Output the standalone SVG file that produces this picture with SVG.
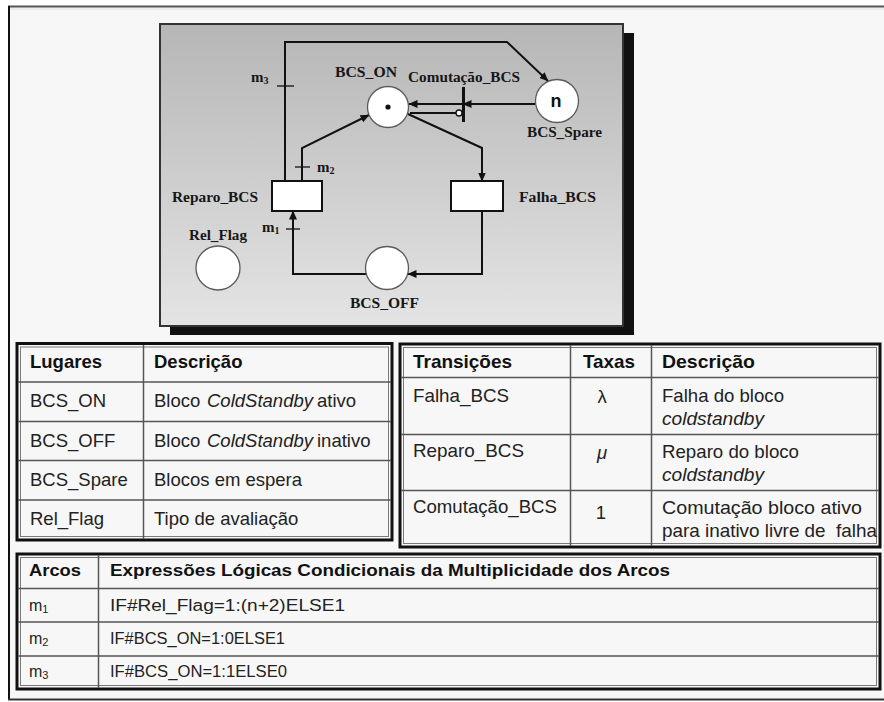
<svg xmlns="http://www.w3.org/2000/svg" width="884" height="702" viewBox="0 0 884 702">
  <defs>
    <linearGradient id="panelFill" x1="0" y1="0" x2="0" y2="1">
      <stop offset="0" stop-color="#b6b6b6"/>
      <stop offset="1" stop-color="#e4e4e4"/>
    </linearGradient>
    <marker id="arrow" markerUnits="userSpaceOnUse" markerWidth="9" markerHeight="8" refX="8.5" refY="4" orient="auto">
      <path d="M0,0 L9,4 L0,8 z" fill="#111"/>
    </marker>
    <style>
      .net { font-family: "Liberation Serif", "Times New Roman", serif; font-weight: bold; font-size: 15px; fill: #161616; }
      .sub { font-size: 10px; }
      .place { fill: #ffffff; stroke: #5a5a5a; stroke-width: 1.3; }
      .trans { fill: #ffffff; stroke: #111; stroke-width: 2; }
      .arc { fill: none; stroke: #111; stroke-width: 2; }
      .tick { stroke: #111; stroke-width: 1.3; }
      .cell { font-family: "Liberation Sans", Arial, sans-serif; font-size: 18.5px; fill: #222; }
      .hdr { font-weight: bold; fill: #111; }
      .it { font-style: italic; }
      .small { font-size: 16px; }
      .tbl { fill: #f7f7f7; stroke: #111; stroke-width: 3; }
      .tblin { fill: none; stroke: #7a7a7a; stroke-width: 1; }
      .grid { stroke: #555; stroke-width: 1.5; }
    </style>
  </defs>

  <!-- page background and frame -->
  <rect x="0" y="0" width="884" height="702" fill="#ffffff"/>
  <rect x="9" y="7" width="880" height="692" fill="#f7f7f7"/>
  <line x1="8" y1="6.5" x2="884" y2="6.5" stroke="#555" stroke-width="2"/>
  <line x1="9" y1="9" x2="884" y2="9" stroke="#e2e2e2" stroke-width="1"/>
  <line x1="9" y1="6" x2="9" y2="700" stroke="#111" stroke-width="2"/>
  <line x1="8" y1="699.5" x2="884" y2="699.5" stroke="#333" stroke-width="2"/>

  <!-- Petri net panel -->
  <g id="panel">
    <rect x="170" y="33" width="464" height="302" fill="#111"/>
    <rect x="160" y="24" width="463" height="302" fill="url(#panelFill)" stroke="#333" stroke-width="2"/>
  </g>

  <!-- arcs -->
  <g id="connectors">
    <path class="arc" d="M285 181 V42 H507 L548 81" marker-end="url(#arrow)"/>
    <path class="arc" d="M302 181 V148 L369 115" marker-end="url(#arrow)"/>
    <path class="arc" d="M408 114 L482 148 V181" marker-end="url(#arrow)"/>
    <path class="arc" d="M482 211 V274 H408" marker-end="url(#arrow)"/>
    <path class="arc" d="M366 274 H293 V211" marker-end="url(#arrow)"/>
    <path class="arc" d="M535 104 H463" marker-end="url(#arrow)"/>
    <path class="arc" d="M462 104 H409" marker-end="url(#arrow)"/>
    <path class="arc" d="M410 113 H456"/>
    <circle cx="459" cy="113" r="3" fill="#fff" stroke="#111" stroke-width="1.3"/>
    <!-- multiplicity ticks -->
    <line class="tick" x1="277" y1="86" x2="294" y2="86"/>
    <line class="tick" x1="295" y1="167" x2="310" y2="167"/>
    <line class="tick" x1="286" y1="229" x2="300" y2="229"/>
  </g>

  <!-- places -->
  <g id="BCS_ON">
    <circle class="place" cx="388" cy="107" r="20.5"/>
    <circle cx="388" cy="107" r="2.6" fill="#111"/>
    <text class="net" x="335" y="77" textLength="62" lengthAdjust="spacingAndGlyphs">BCS_ON</text>
  </g>
  <g id="BCS_Spare">
    <circle class="place" cx="557" cy="101" r="21.5"/>
    <text x="556" y="107" text-anchor="middle" font-family="Liberation Sans, Arial, sans-serif" font-size="18" font-weight="bold" fill="#111">n</text>
    <text class="net" x="527" y="137" textLength="75" lengthAdjust="spacingAndGlyphs">BCS_Spare</text>
  </g>
  <g id="BCS_OFF">
    <circle class="place" cx="387" cy="268" r="21.5"/>
    <text class="net" x="350" y="308" textLength="69" lengthAdjust="spacingAndGlyphs">BCS_OFF</text>
  </g>
  <g id="Rel_Flag">
    <circle class="place" cx="218" cy="268" r="22"/>
    <text class="net" x="189" y="240" textLength="58" lengthAdjust="spacingAndGlyphs">Rel_Flag</text>
  </g>

  <!-- transitions -->
  <g id="Reparo_BCS">
    <rect class="trans" x="272" y="181" width="50" height="30"/>
    <text class="net" x="172" y="202" textLength="86" lengthAdjust="spacingAndGlyphs">Reparo_BCS</text>
  </g>
  <g id="Falha_BCS">
    <rect class="trans" x="451" y="181" width="52" height="30"/>
    <text class="net" x="519" y="202" textLength="77" lengthAdjust="spacingAndGlyphs">Falha_BCS</text>
  </g>
  <g id="Comutacao_BCS">
    <rect x="462" y="87" width="3" height="35" fill="#111"/>
    <text class="net" x="408" y="82" textLength="112" lengthAdjust="spacingAndGlyphs">Comutação_BCS</text>
  </g>

  <!-- arc multiplicity labels -->
  <g id="labels">
    <text class="net" x="251" y="82">m<tspan class="sub" dy="2">3</tspan></text>
    <text class="net" x="317" y="172">m<tspan class="sub" dy="2">2</tspan></text>
    <text class="net" x="262" y="232">m<tspan class="sub" dy="2">1</tspan></text>
  </g>

  <!-- table: places -->
  <g id="tabela_lugares">
    <rect class="tbl" x="17" y="343.5" width="375" height="196.5"/>
    <rect class="tblin" x="20.5" y="347" width="368" height="189.5"/>
    <line class="grid" x1="18" y1="382" x2="391" y2="382"/>
    <line class="grid" x1="18" y1="421.5" x2="391" y2="421.5"/>
    <line class="grid" x1="18" y1="460.5" x2="391" y2="460.5"/>
    <line class="grid" x1="18" y1="500" x2="391" y2="500"/>
    <line class="grid" x1="143.5" y1="345" x2="143.5" y2="539"/>
    <text class="cell hdr" x="30" y="368">Lugares</text>
    <text class="cell hdr" x="154" y="368">Descrição</text>
    <text class="cell" x="30" y="407">BCS_ON</text>
    <text class="cell" x="30" y="447">BCS_OFF</text>
    <text class="cell" x="30" y="486">BCS_Spare</text>
    <text class="cell" x="30" y="525">Rel_Flag</text>
    <text class="cell" x="154" y="407">Bloco</text>
    <text class="cell it" x="207" y="407" textLength="106" lengthAdjust="spacingAndGlyphs">ColdStandby</text>
    <text class="cell" x="317" y="407">ativo</text>
    <text class="cell" x="154" y="447">Bloco</text>
    <text class="cell it" x="207" y="447" textLength="106" lengthAdjust="spacingAndGlyphs">ColdStandby</text>
    <text class="cell" x="317" y="447">inativo</text>
    <text class="cell" x="154" y="486">Blocos em espera</text>
    <text class="cell" x="154" y="525">Tipo de avaliação</text>
  </g>

  <!-- table: transitions -->
  <g id="tabela_transicoes">
    <rect class="tbl" x="400" y="344" width="480" height="203"/>
    <rect class="tblin" x="403.5" y="347.5" width="473" height="196"/>
    <line class="grid" x1="401" y1="377.5" x2="879" y2="377.5"/>
    <line class="grid" x1="401" y1="434.5" x2="879" y2="434.5"/>
    <line class="grid" x1="401" y1="490.5" x2="879" y2="490.5"/>
    <line class="grid" x1="570.5" y1="345" x2="570.5" y2="546"/>
    <line class="grid" x1="651.5" y1="345" x2="651.5" y2="546"/>
    <text class="cell hdr" x="413" y="368" textLength="99" lengthAdjust="spacingAndGlyphs">Transições</text>
    <text class="cell hdr" x="583" y="368" textLength="52" lengthAdjust="spacingAndGlyphs">Taxas</text>
    <text class="cell hdr" x="662" y="368" textLength="93" lengthAdjust="spacingAndGlyphs">Descrição</text>
    <text class="cell" x="413" y="402" textLength="96" lengthAdjust="spacingAndGlyphs">Falha_BCS</text>
    <text class="cell" x="413" y="457" textLength="111" lengthAdjust="spacingAndGlyphs">Reparo_BCS</text>
    <text class="cell" x="413" y="513" textLength="144" lengthAdjust="spacingAndGlyphs">Comutação_BCS</text>
    <text class="cell" x="602" y="403" text-anchor="middle" font-size="15">λ</text>
    <text class="cell it" x="602" y="459" text-anchor="middle" font-size="15">μ</text>
    <text class="cell" x="601" y="519" text-anchor="middle">1</text>
    <text class="cell" x="662" y="402" textLength="122" lengthAdjust="spacingAndGlyphs">Falha do bloco</text>
    <text class="cell it" x="662" y="425" textLength="102" lengthAdjust="spacingAndGlyphs">coldstandby</text>
    <text class="cell" x="662" y="458" textLength="137" lengthAdjust="spacingAndGlyphs">Reparo do bloco</text>
    <text class="cell it" x="662" y="481" textLength="102" lengthAdjust="spacingAndGlyphs">coldstandby</text>
    <text class="cell" x="662" y="514" textLength="200" lengthAdjust="spacingAndGlyphs">Comutação bloco ativo</text>
    <text class="cell" x="662" y="537" textLength="215" lengthAdjust="spacingAndGlyphs" style="white-space:pre">para inativo livre de  falha</text>
  </g>

  <!-- table: arc multiplicities -->
  <g id="tabela_arcos">
    <rect class="tbl" x="17" y="554" width="863" height="135"/>
    <rect class="tblin" x="20.5" y="557.5" width="856" height="128"/>
    <line class="grid" x1="18" y1="588.5" x2="879" y2="588.5"/>
    <line class="grid" x1="18" y1="622" x2="879" y2="622"/>
    <line class="grid" x1="18" y1="656" x2="879" y2="656"/>
    <line class="grid" x1="98.5" y1="555" x2="98.5" y2="688"/>
    <text class="cell small hdr" x="29" y="576" textLength="52" lengthAdjust="spacingAndGlyphs">Arcos</text>
    <text class="cell small hdr" x="110" y="576" textLength="560" lengthAdjust="spacingAndGlyphs">Expressões Lógicas Condicionais da Multiplicidade dos Arcos</text>
    <text class="cell small" x="29" y="611">m<tspan font-size="11" dy="2">1</tspan></text>
    <text class="cell small" x="29" y="644">m<tspan font-size="11" dy="2">2</tspan></text>
    <text class="cell small" x="29" y="677">m<tspan font-size="11" dy="2">3</tspan></text>
    <text class="cell small" x="110" y="611" textLength="235" lengthAdjust="spacingAndGlyphs">IF#Rel_Flag=1:(n+2)ELSE1</text>
    <text class="cell small" x="110" y="644" textLength="175" lengthAdjust="spacingAndGlyphs">IF#BCS_ON=1:0ELSE1</text>
    <text class="cell small" x="110" y="677" textLength="177" lengthAdjust="spacingAndGlyphs">IF#BCS_ON=1:1ELSE0</text>
  </g>
</svg>
